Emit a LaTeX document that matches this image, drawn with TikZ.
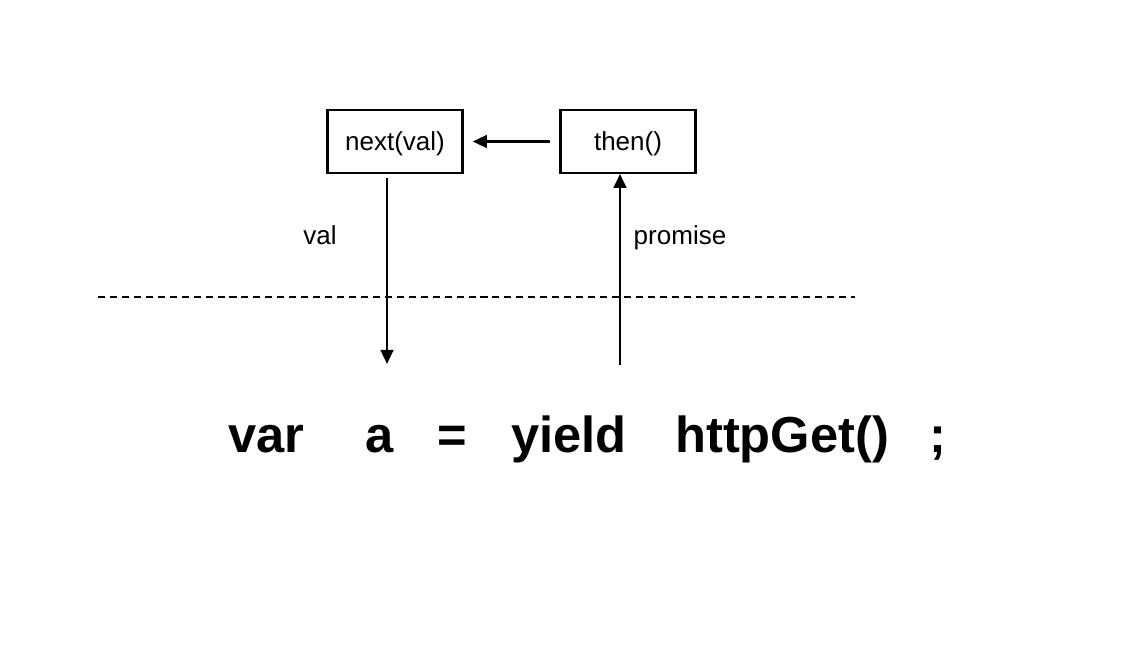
\documentclass[tikz,border=0pt]{standalone}
\usepackage{fontspec}
\setmainfont{Liberation Sans}
\usetikzlibrary{arrows.meta}
\tikzset{
	conn/.style={line width=1.8pt,-{Triangle[width=9pt,length=10pt]}},
	labeltext/.style={font=\fontsize{18.5}{20}\selectfont}
}
\begin{document}
\begin{tikzpicture}[x=0.025cm,y=-0.025cm]
				\useasboundingbox (0,0) rectangle (1148,644);
				\path [draw,line width=1.3pt,dash pattern=on 5pt off 3.5pt] (98,297) -- (855,297);
				
				\begin{scope}[every node/.style={rectangle,line width=1.6pt,draw,minimum width=96pt,minimum height=44.5pt,inner sep=0pt,text depth=0pt,labeltext}]
					\node (next) at (395,141.5) {next(val)};
					\node (then) at (628,141.5) {then()};
				\end{scope}
				\node[labeltext,anchor=base] (val) at (320,244) {val};
				\node[labeltext,anchor=base] (promise) at (680,244) {promise};
				
				\begin{scope}[every node/.style={anchor=base west,inner sep=0pt,font=\fontsize{36}{40}\selectfont\bfseries}]
					\node (var) at (228,452) {var};
					\node (a) at (365,452) {a};
					\node (eq) at (437,452) {=};
					\node (yield) at (511,452) {yield};
					\node (httpget) at (675,452) {httpGet()};
					\node (semi) at (929,452) {;};
				\end{scope}
				
				\coordinate (valend) at (387,364);
				\coordinate (promisestart) at (620,365);
				\draw [conn,shorten <=7pt,shorten >=6.5pt] (then.west) -- (next.east);
				\draw [conn,shorten <=3pt] (next.south -| valend) -- (valend);
				\draw [conn] (promisestart) -- (then.south -| promisestart);
			\end{tikzpicture}
\end{document}
